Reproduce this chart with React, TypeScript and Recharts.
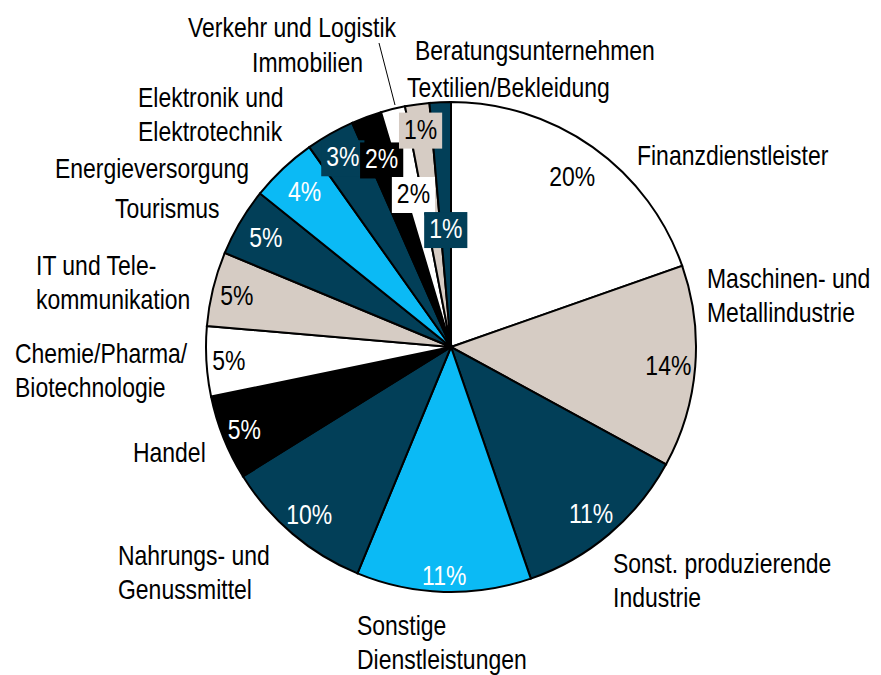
import React from 'react';
import { PieChart, Pie, Cell } from 'recharts';

const categories = [
  'Finanzdienstleister',
  'Maschinen- und|Metallindustrie',
  'Sonst. produzierende|Industrie',
  'Sonstige|Dienstleistungen',
  'Nahrungs- und|Genussmittel',
  'Handel',
  'Chemie/Pharma/|Biotechnologie',
  'IT und Tele-|kommunikation',
  'Tourismus',
  'Energieversorgung',
  'Elektronik und|Elektrotechnik',
  'Verkehr und Logistik',
  'Immobilien',
  'Beratungsunternehmen',
  'Textilien/Bekleidung',
];

const values = [19.6, 13.3, 11.75, 11.5, 9.9, 5.6, 4.6, 4.9, 4.5, 4.4, 3.2, 2.0, 1.6, 1.6, 1.4];

const pctLabels = ['20%', '14%', '11%', '11%', '10%', '5%', '5%', '5%', '5%', '4%', '3%', '2%', '2%', '1%', '1%'];

const NAVY = '#023F58';
const LIGHT = '#0BBAF5';
const BEIGE = '#D6CCC4';
const colors = ['#FFFFFF', BEIGE, NAVY, LIGHT, NAVY, '#000000', '#FFFFFF', BEIGE, NAVY, LIGHT, NAVY, '#000000', '#FFFFFF', BEIGE, NAVY];
const darkText = [false, false, true, true, true, true, false, false, true, true, true, true, false, false, true];

// label layout (styling): radius fraction for percent labels, boxed flags
const pctRadius = [0.855, 0.89, 0.886, 0.93, 0.895, 0.908, 0.908, 0.9, 0.879, 0.872, 0.895, 0.82, 0.647, 0.9, 0.486];
const boxed = [false, false, false, false, false, false, false, false, false, false, true, true, true, true, true];
// name label offsets relative to pie center (first-line baseline, left aligned)
const nameOffset: [number, number][] = [
  [186, -182], [256, -59], [162, 226], [-94, 288], [-333, 218], [-318, 115], [-436, 16],
  [-415, -72], [-336, -129], [-396, -169], [-313, -240], [-263, -310], [-199, -275], [-36, -287], [-44, -250],
];

const data = categories.map((name, i) => ({ name, value: values[i] }));

const RAD = Math.PI / 180;
const FS = 28;
const SX = 0.82;
const FONT = "'Liberation Sans', Arial, sans-serif";

function NText({ x, y, fill, anchor, children }: any) {
  return (
    <text
      transform={`translate(${x},${y}) scale(${SX},1)`}
      textAnchor={anchor}
      fontFamily={FONT}
      fontSize={FS}
      fill={fill}
    >
      {children}
    </text>
  );
}

function textWidth(s: string) {
  let w = 0;
  for (const ch of s) w += ch === '%' ? 0.889 : 0.556;
  return w * FS * SX;
}

function renderLabel(props: any) {
  const { cx, cy, midAngle, outerRadius, index } = props;
  const r = outerRadius * pctRadius[index];
  const x = cx + r * Math.cos(-midAngle * RAD);
  const yc = cy + r * Math.sin(-midAngle * RAD);
  const base = yc + 10;
  const txt = pctLabels[index];
  const w = textWidth(txt) + 10;
  const [ox, oy] = nameOffset[index];
  const lines = categories[index].split('|');
  return (
    <g key={`lab-${index}`}>
      {boxed[index] && (
        <rect x={x - w / 2} y={base - 26} width={w} height={36} fill={colors[index]} stroke="none" />
      )}
      <NText x={x} y={base} anchor="middle" fill={darkText[index] ? '#FFFFFF' : '#000000'}>
        {txt}
      </NText>
      {lines.map((ln, k) => (
        <NText key={k} x={cx + ox} y={cy + oy + k * 34} anchor="start" fill="#000000">
          {ln}
        </NText>
      ))}
      {index === 12 && (
        <line x1={cx - 72} y1={cy - 304} x2={cx - 56} y2={cy - 242} stroke="#000" strokeWidth={1} />
      )}
    </g>
  );
}

export default function App() {
  return (
    <div style={{ position: 'absolute', left: 0, top: 0, width: 881, height: 675, overflow: 'hidden', background: '#fff' }}>
      <PieChart width={881} height={675} margin={{ top: 0, right: 0, bottom: 0, left: 0 }}>
        <Pie
          data={data}
          dataKey="value"
          nameKey="name"
          cx={451}
          cy={347}
          outerRadius={245}
          startAngle={90}
          endAngle={-270}
          stroke="#000000"
          strokeWidth={2}
          label={renderLabel}
          labelLine={false}
          isAnimationActive={false}
        >
          {data.map((d, i) => (
            <Cell key={i} fill={colors[i]} stroke="#000000" strokeWidth={2} />
          ))}
        </Pie>
      </PieChart>
    </div>
  );
}
